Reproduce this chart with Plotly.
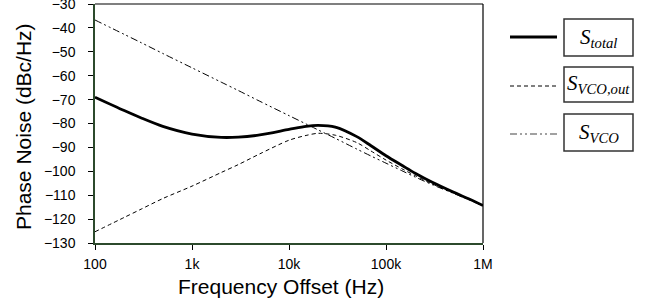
import plotly.graph_objects as go

# Frequency offsets (Hz)
freq = [100, 200, 300, 500, 1e3, 2e3, 3e3, 5e3, 1e4, 1.5e4, 2e4, 3e4, 5e4, 7e4,
        1e5, 1.5e5, 2e5, 3e5, 5e5, 7e5, 1e6]

# Phase noise values (dBc/Hz)
s_total = [-69.0, -74.6, -77.7, -81.2, -84.4, -85.8, -85.7, -84.8, -82.5, -81.2,
           -80.8, -81.5, -85.5, -89.3, -93.5, -97.8, -100.8, -104.6, -108.8, -111.4, -114.3]
s_vco_out = [-125.3, -119.3, -115.8, -111.4, -106.2, -100.5, -97.2, -92.7, -87.0, -85.0,
             -84.1, -84.9, -88.0, -91.5, -95.3, -99.2, -101.8, -105.3, -109.1, -111.6, -114.4]
s_vco = [-36.7, -42.7, -46.2, -50.7, -56.7, -62.7, -66.2, -70.7, -76.7, -80.2,
         -82.7, -86.2, -90.7, -93.6, -96.6, -100.0, -102.4, -105.6, -109.3, -111.8, -114.5]

x_ticks = [100, 1e3, 1e4, 1e5, 1e6]
x_ticktext = ["100", "1k", "10k", "100k", "1M"]
y_ticks = list(range(-130, -29, 10))

legend_labels = ["<i>S<sub>total</sub></i>", "<i>S<sub>VCO,out</sub></i>", "<i>S<sub>VCO</sub></i>"]

W, H = 651, 306
L, R, T, B = 95, 168, 4, 63

DASHDOTDOT = "7px,3px,2px,3px,2px,3px"

fig = go.Figure()
fig.add_trace(go.Scatter(x=freq, y=s_vco, mode="lines", line=dict(color="black", width=1, dash=DASHDOTDOT, shape="spline", smoothing=0.8), showlegend=False, hoverinfo="skip"))
fig.add_trace(go.Scatter(x=freq, y=s_vco_out, mode="lines", line=dict(color="black", width=1, dash="4px,3px", shape="spline", smoothing=0.8), showlegend=False, hoverinfo="skip"))
fig.add_trace(go.Scatter(x=freq, y=s_total, mode="lines", line=dict(color="black", width=2.8, shape="spline", smoothing=0.8), showlegend=False, hoverinfo="skip"))

axis_green = "#2c4a2c"
fig.update_xaxes(type="log", range=[2, 6], tickvals=x_ticks, ticktext=x_ticktext,
                 showgrid=False, zeroline=False, showline=True, linecolor=axis_green, linewidth=1.5,
                 ticks="outside", ticklen=5, tickcolor="black", tickwidth=1,
                 tickfont=dict(family="Liberation Sans, Arial", size=14, color="black"),
                 ticklabelstandoff=2, automargin=False, ticklabeloverflow="allow")
fig.update_yaxes(range=[-130, -30], tickvals=y_ticks, showgrid=False, zeroline=False,
                 showline=True, linecolor=axis_green, linewidth=1.5,
                 ticks="outside", ticklen=5, tickcolor="black", tickwidth=1,
                 tickfont=dict(family="Liberation Sans, Arial", size=14, color="black"),
                 ticklabelstandoff=10, automargin=False, ticklabeloverflow="allow")

pw = W - L - R
ph = H - T - B
def px(x):
    return (x - L) / pw
def py(y):
    return 1 - (y - T) / ph

shapes = []
# top and right borders
shapes.append(dict(type="line", xref="paper", yref="paper", x0=0, x1=1, y0=1, y1=1, line=dict(color="black", width=1.2)))
shapes.append(dict(type="line", xref="paper", yref="paper", x0=1, x1=1, y0=0, y1=1, line=dict(color="black", width=1.2)))

legend_styles = [dict(width=2.8, dash="solid"), dict(width=1, dash="4px,3px"), dict(width=1.2, dash=DASHDOTDOT)]
line_y = [37, 86, 134]
box_y = [(19, 56), (67, 102), (114, 151)]
annotations = []
for i, lab in enumerate(legend_labels):
    shapes.append(dict(type="line", xref="paper", yref="paper", x0=px(510), x1=px(557),
                       y0=py(line_y[i]), y1=py(line_y[i]),
                       line=dict(color="black" if i < 2 else "#444", width=legend_styles[i]["width"], dash=legend_styles[i]["dash"])))
    shapes.append(dict(type="rect", xref="paper", yref="paper", x0=px(564), x1=px(633),
                       y0=py(box_y[i][1]), y1=py(box_y[i][0]),
                       line=dict(color="#333", width=1.5), fillcolor="white"))
    annotations.append(dict(text=lab, xref="paper", yref="paper", x=px(598.5), y=py((box_y[i][0] + box_y[i][1]) / 2),
                            xanchor="center", yanchor="middle", showarrow=False,
                            font=dict(family="Liberation Serif, Times New Roman", size=21, color="black")))

annotations.append(dict(text="Frequency Offset (Hz)", xref="paper", yref="paper", x=px(281), y=py(286),
                        xanchor="center", yanchor="middle", showarrow=False,
                        font=dict(family="Liberation Sans, Arial", size=21, color="black")))
annotations.append(dict(text="Phase Noise (dBc/Hz)", xref="paper", yref="paper", x=px(24), y=py(127),
                        xanchor="center", yanchor="middle", showarrow=False, textangle=-90,
                        font=dict(family="Liberation Sans, Arial", size=21, color="black")))

fig.update_layout(width=W, height=H, margin=dict(l=L, r=R, t=T, b=B, autoexpand=False),
                  plot_bgcolor="white", paper_bgcolor="white",
                  shapes=shapes, annotations=annotations, showlegend=False)

fig.write_html("out.html", config={"displayModeBar": False},
               post_script="document.body.style.margin='0';document.body.style.overflow='hidden';")
